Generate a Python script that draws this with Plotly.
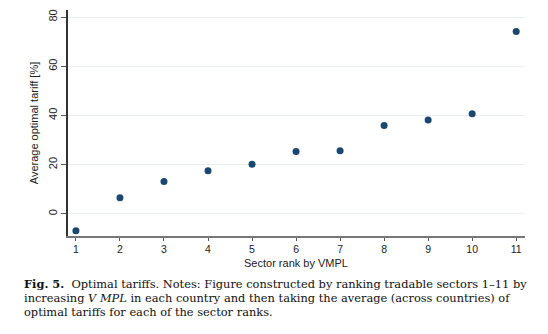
import plotly.graph_objects as go

ranks = [1, 2, 3, 4, 5, 6, 7, 8, 9, 10, 11]
tariffs = [-6.9, 6.6, 13.2, 17.5, 20.2, 25.4, 25.7, 35.9, 38.2, 40.7, 74.2]
y_ticks = [0, 20, 40, 60, 80]

caption_lines = [
    "<b>Fig. 5.</b>  Optimal tariffs. Notes: Figure constructed by ranking tradable sectors 1\u201311 by",
    "increasing <i>V MPL</i> in each country and then taking the average (across countries) of",
    "optimal tariffs for each of the sector ranks.",
]

fig = go.Figure()
fig.add_trace(go.Scatter(
    x=ranks, y=tariffs, mode="markers",
    marker=dict(color="#1a476f", size=7, line=dict(width=0)),
    showlegend=False,
))

W, H = 548, 334
ml, mr, mt, mb = 68, 23, 10, 98
pw, ph = W - ml - mr, H - mt - mb

def px_x(x):
    return (x - ml) / pw

def px_y(y):
    return (H - mb - y) / ph

fig.update_layout(
    width=W, height=H,
    margin=dict(l=ml, r=mr, t=mt, b=mb),
    paper_bgcolor="white", plot_bgcolor="white",
    font=dict(family="Liberation Sans, Arial", size=11, color="#222"),
    xaxis=dict(
        range=[0.82, 11.2], tickvals=ranks, ticks="outside", ticklen=3,
        tickcolor="#555", showline=True, linecolor="#777", linewidth=1.5,
        showgrid=False, zeroline=False,
        tickfont=dict(size=10.5),
    ),
    yaxis=dict(
        range=[-9, 82.9], tickvals=y_ticks, ticks="outside", ticklen=5,
        tickcolor="#555", showline=True, linecolor="#333", linewidth=1.5,
        showgrid=True, gridcolor="#eaf0f0", gridwidth=1, zeroline=False,
        tickangle=-90,
        title=dict(text="Average optimal tariff [%]", standoff=6, font=dict(size=11)),
        tickfont=dict(size=11),
    ),
)

fig.add_annotation(
    text="Sector rank by VMPL", xref="paper", yref="paper",
    x=px_x(296), y=px_y(256), xanchor="center", yanchor="top",
    showarrow=False, font=dict(size=11, color="#222"),
    borderpad=0,
)

ys = [284, 298, 312]
for line, yp in zip(caption_lines, ys):
    fig.add_annotation(
        text=line, xref="paper", yref="paper",
        x=px_x(22), y=px_y(yp),
        xanchor="left", yanchor="middle", showarrow=False,
        font=dict(family="DejaVu Serif, serif", size=11.4, color="#111"),
    )

fig.write_html("out.html")
